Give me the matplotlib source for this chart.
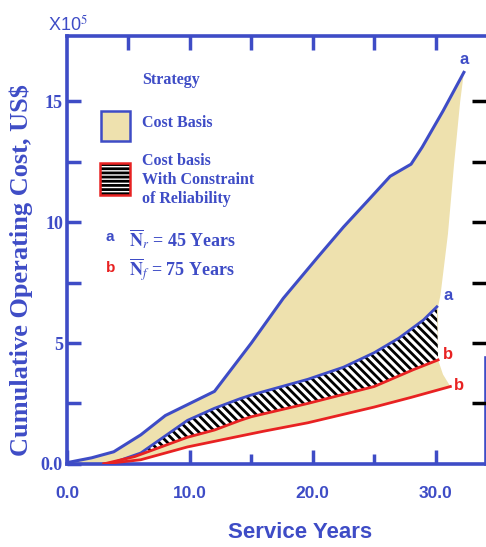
import numpy as np
import matplotlib
matplotlib.use("Agg")
import matplotlib.pyplot as plt
from matplotlib.patches import Rectangle

BLUE = "#3e4cc6"
RED = "#e82222"
TAN = "#eee1ae"
SANS = "Liberation Sans"

# Cost basis, Nr = 45 years (upper envelope)
cost_a_x = [0.0, 2.0, 3.8, 6.0, 8.0, 9.8, 12.0, 15.0, 17.6, 20.4, 22.5, 24.5, 26.3, 28.0, 28.9, 30.6, 32.3]
cost_a_y = [0.05, 0.25, 0.5, 1.2, 2.0, 2.45, 3.0, 5.0, 6.85, 8.55, 9.8, 10.9, 11.9, 12.4, 13.1, 14.6, 16.2]

# Cost basis, Nf = 75 years (lower envelope)
cost_b_x = [3.0, 6.0, 9.8, 13.6, 16.0, 19.6, 25.0, 28.0, 31.2]
cost_b_y = [0.0, 0.17, 0.7, 1.1, 1.35, 1.7, 2.35, 2.75, 3.2]

# right-hand edge of the cost basis region
edge_x = [32.0, 31.5, 31.0, 30.4, 30.2, 30.2, 30.6, 31.2]
edge_y = [15.0, 12.4, 9.5, 7.0, 6.5, 4.3, 3.7, 3.2]

# Cost basis with reliability constraint
rel_a_x = [3.5, 6.0, 9.8, 12.0, 14.1, 15.0, 19.6, 22.5, 25.0, 27.0, 29.0, 30.1]
rel_a_y = [0.0, 0.45, 1.8, 2.3, 2.7, 2.85, 3.5, 4.0, 4.6, 5.2, 5.95, 6.5]
rel_b_x = [3.0, 5.5, 9.8, 12.0, 14.1, 15.0, 19.6, 25.0, 28.2, 30.2]
rel_b_y = [0.0, 0.3, 1.1, 1.4, 1.8, 1.95, 2.5, 3.2, 3.9, 4.3]

x_ticks = [0, 10, 20, 30]
x_labels = ["0.0", "10.0", "20.0", "30.0"]
y_ticks = [0, 2.5, 5, 7.5, 10, 12.5, 15]
y_labels = ["0.0", "", "5", "", "10", "", "15"]

plt.rcParams["hatch.linewidth"] = 2.0
plt.rcParams["mathtext.fontset"] = "stix"

fig = plt.figure(figsize=(4.86, 5.47), dpi=100)
ax = fig.add_axes([0.138, 0.152, 0.862, 0.782])

# tan area of cost basis strategy
poly_x = cost_a_x + edge_x + cost_b_x[::-1]
poly_y = cost_a_y + edge_y + cost_b_y[::-1]
ax.fill(poly_x, poly_y, color=TAN, lw=0, zorder=1)

# hatched band of the constrained strategy
band_x = rel_a_x + rel_b_x[::-1]
band_y = rel_a_y + rel_b_y[::-1]
ax.fill(band_x, band_y, facecolor="white", edgecolor="black", hatch="\\\\\\\\", lw=0, zorder=2)

ax.plot(cost_a_x, cost_a_y, color=BLUE, lw=2.2, zorder=4)
ax.plot(rel_a_x, rel_a_y, color=BLUE, lw=2.0, zorder=4)
ax.plot(rel_b_x, rel_b_y, color=RED, lw=2.0, zorder=4)
ax.plot(cost_b_x, cost_b_y, color=RED, lw=2.0, zorder=4)

lab_kw = dict(textcoords="offset points", fontsize=12, family=SANS,
              fontweight="bold", ha="center", va="center")
ax.annotate("a", (cost_a_x[-1], cost_a_y[-1]), xytext=(0, 9), color=BLUE, **lab_kw)
ax.annotate("a", (rel_a_x[-1], rel_a_y[-1]), xytext=(8, 8), color=BLUE, **lab_kw)
ax.annotate("b", (rel_b_x[-1], rel_b_y[-1]), xytext=(7, 4), color=RED, **lab_kw)
ax.annotate("b", (cost_b_x[-1], cost_b_y[-1]), xytext=(6, 1), color=RED, **lab_kw)

ax.set_xlim(0, 34.1)
ax.set_ylim(0, 17.7)

for side in ["left", "bottom", "top", "right"]:
    ax.spines[side].set_color(BLUE)
    ax.spines[side].set_linewidth(2.6)
ax.spines["right"].set_bounds(0, 4.4)

ax.set_xticks(x_ticks)
ax.set_xticklabels(x_labels)
ax.set_xticks([15, 25], minor=True)
ax.tick_params(axis="x", which="major", direction="in", length=10, width=2.5, color=BLUE,
               labelcolor=BLUE, pad=16, labelsize=12.5)
ax.tick_params(axis="x", which="minor", direction="in", length=7, width=2.5, color=BLUE)
for t in ax.get_xticklabels():
    t.set_family(SANS)
    t.set_fontweight("bold")

ax.set_yticks(y_ticks)
ax.set_yticklabels(y_labels)
ax.tick_params(axis="y", direction="in", length=10, width=2.5, color=BLUE,
               labelcolor=BLUE, pad=3, labelsize=13)
for t in ax.get_yticklabels():
    t.set_family("Liberation Serif")
    t.set_fontweight("bold")

top = ax.secondary_xaxis("top")
top.set_xticks([5, 10, 15, 20, 25, 30])
top.tick_params(direction="in", length=10, width=2.5, color=BLUE, labeltop=False)
top.spines["top"].set_visible(False)

right = ax.twinx()
right.set_ylim(ax.get_ylim())
right.set_yticks(y_ticks[1:])
right.tick_params(direction="in", length=10, width=2.5, color="black", labelright=False)
for side in right.spines:
    right.spines[side].set_visible(False)

ax.set_ylabel("Cumulative Operating Cost, US$", color=BLUE, fontsize=19,
              family="Liberation Serif", fontweight="bold")
ax.yaxis.set_label_coords(-0.082, 0.453)
ax.set_xlabel("Service Years", color=BLUE, fontsize=16,
              family=SANS, fontweight="bold")
ax.xaxis.set_label_coords(0.557, -0.136)

fig.text(0.098, 0.954, r"X10$^5$", color=BLUE, fontsize=13, family=SANS,
         va="center")

# legend
txt = dict(color=BLUE, family="Liberation Serif", fontweight="bold", transform=ax.transAxes)
ax.text(0.179, 0.897, "Strategy", fontsize=11.5, va="center", **txt)
ax.add_patch(Rectangle((0.081, 0.755), 0.069, 0.070, transform=ax.transAxes,
                       facecolor=TAN, edgecolor=BLUE, lw=1.8, zorder=5))
ax.text(0.179, 0.797, "Cost Basis", fontsize=11.5, va="center", **txt)
ax.add_patch(Rectangle((0.079, 0.628), 0.072, 0.075, transform=ax.transAxes,
                       facecolor="white", edgecolor="black", hatch="----", lw=0, zorder=5))
ax.add_patch(Rectangle((0.079, 0.628), 0.072, 0.075, transform=ax.transAxes,
                       fill=False, edgecolor=RED, lw=1.8, zorder=6))
ax.text(0.179, 0.664, "Cost basis\nWith Constraint\nof Reliability", fontsize=11.5,
        va="center", linespacing=1.25, **txt)
ax.text(0.103, 0.530, "a", color=BLUE, fontsize=11, family=SANS,
        fontweight="bold", va="center", ha="center", transform=ax.transAxes)
ax.text(0.103, 0.458, "b", color=RED, fontsize=11, family=SANS,
        fontweight="bold", va="center", ha="center", transform=ax.transAxes)
ax.text(0.148, 0.525, r"$\overline{\mathbf{N}}_{r}$ = 45 Years", fontsize=13, va="center", **txt)
ax.text(0.148, 0.453, r"$\overline{\mathbf{N}}_{f}$ = 75 Years", fontsize=13, va="center", **txt)

fig.savefig("out.png", dpi=100)
